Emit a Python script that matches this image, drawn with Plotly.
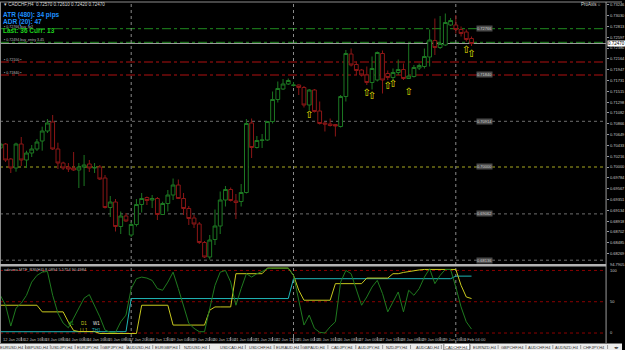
import plotly.graph_objects as go

W, H = 625, 350

# ---------------- data ----------------
bar_index = list(range(91))
opens = [0.7038, 0.7046, 0.7016, 0.6998, 0.7046, 0.7014, 0.7028, 0.7036, 0.7052, 0.7072,
         0.7090, 0.7036, 0.7008, 0.7000, 0.6998, 0.6994, 0.7000, 0.7006, 0.6998, 0.7000,
         0.6978, 0.6919, 0.6930, 0.6881, 0.6902, 0.6864, 0.6885, 0.6925, 0.6939, 0.6934,
         0.6937, 0.6905, 0.6927, 0.6944, 0.6964, 0.6937, 0.6917, 0.6898, 0.6886, 0.6849,
         0.6820, 0.6855, 0.6882, 0.6934, 0.6955, 0.6932, 0.6931, 0.6949, 0.7088, 0.7039,
         0.7053, 0.7054, 0.7091, 0.7135, 0.7156, 0.7166, 0.7163, 0.7164, 0.7159, 0.7124,
         0.7154, 0.7112, 0.7088, 0.7086, 0.7085, 0.7081, 0.7141, 0.7226, 0.7205, 0.7194,
         0.7184, 0.7169, 0.7174, 0.7227, 0.7187, 0.7179, 0.7189, 0.7195, 0.7177, 0.7181,
         0.7198, 0.7201, 0.7220, 0.7253, 0.7239, 0.7244, 0.7284, 0.7284, 0.7275, 0.7270,
         0.7257]
highs = [0.7052, 0.7048, 0.7018, 0.70486, 0.7060, 0.70326, 0.7044, 0.7056, 0.70806, 0.7096,
         0.7104, 0.70486, 0.70106, 0.7008, 0.7030, 0.7008, 0.7024, 0.7014, 0.7008, 0.7004,
         0.6984, 0.6942, 0.6936, 0.6911, 0.6908, 0.6890, 0.6936, 0.6948, 0.6941, 0.6944,
         0.6940, 0.69306, 0.6954, 0.6977, 0.6975, 0.6948, 0.6922, 0.6904, 0.6890, 0.6852,
         0.6864, 0.6915, 0.6951, 0.6962, 0.6959, 0.6946, 0.6966, 0.7096, 0.7097, 0.7062,
         0.7066, 0.7092, 0.7151, 0.7171, 0.7176, 0.7177, 0.7170, 0.7165, 0.7162, 0.7156,
         0.7156, 0.7131, 0.7091, 0.7097, 0.7086, 0.7144, 0.7234, 0.7237, 0.7211, 0.7196,
         0.7201, 0.7221, 0.7231, 0.7233, 0.7193, 0.7197, 0.7215, 0.7207, 0.7246, 0.7204,
         0.7207, 0.7237, 0.7275, 0.7297, 0.7302, 0.7307, 0.7298, 0.7304, 0.7281, 0.7275,
         0.7261]
lows = [0.7034, 0.7010, 0.6988, 0.69906, 0.7002, 0.6998, 0.7020, 0.7032, 0.70326, 0.7068,
        0.7034, 0.6996, 0.6994, 0.6990, 0.6992, 0.6958, 0.6962, 0.6990, 0.6988, 0.6974,
        0.6917, 0.6900, 0.6871, 0.6866, 0.6890, 0.6860, 0.6881, 0.6909, 0.6924, 0.6918,
        0.6894, 0.6904, 0.6911, 0.6934, 0.6936, 0.6904, 0.6884, 0.6878, 0.6846, 0.6818,
        0.6815, 0.6844, 0.6866, 0.6921, 0.6931, 0.6896, 0.6921, 0.6947, 0.7018, 0.7037,
        0.7038, 0.7052, 0.7087, 0.7129, 0.7154, 0.7164, 0.7161, 0.7144, 0.7119, 0.7114,
        0.7109, 0.7085, 0.7071, 0.7081, 0.7061, 0.7079, 0.7131, 0.7201, 0.7184, 0.7181,
        0.7164, 0.7155, 0.7171, 0.7147, 0.7174, 0.7174, 0.7184, 0.7174, 0.7176, 0.7179,
        0.7194, 0.7197, 0.7201, 0.7224, 0.7236, 0.7242, 0.7282, 0.7267, 0.7261, 0.7251,
        0.7242]
closes = [0.7046, 0.7014, 0.6998, 0.7046, 0.7014, 0.7028, 0.7036, 0.7050, 0.7072, 0.7088,
          0.7036, 0.7008, 0.6998, 0.6996, 0.6994, 0.7000, 0.7004, 0.6998, 0.6999, 0.6976,
          0.6919, 0.6930, 0.6881, 0.6902, 0.6892, 0.6885, 0.6925, 0.6937, 0.6933, 0.6937,
          0.6905, 0.6927, 0.6944, 0.6964, 0.6937, 0.6917, 0.6897, 0.6886, 0.6849, 0.6820,
          0.6854, 0.6882, 0.6934, 0.6955, 0.6933, 0.6929, 0.6949, 0.7087, 0.7039, 0.7053,
          0.7054, 0.7091, 0.7135, 0.7157, 0.7166, 0.7173, 0.7164, 0.7159, 0.7124, 0.7154,
          0.7111, 0.7087, 0.7086, 0.7083, 0.7082, 0.7141, 0.7227, 0.7204, 0.7193, 0.7184,
          0.7169, 0.7197, 0.7229, 0.7174, 0.7179, 0.7189, 0.7195, 0.7177, 0.7182, 0.7199,
          0.7203, 0.7221, 0.7254, 0.7239, 0.7247, 0.7289, 0.7293, 0.7275, 0.7267, 0.7255,
          0.7247]

arrow_bars = [59, 70, 71, 74, 75, 78, 89, 90]
arrow_prices = [0.7104, 0.71474, 0.7142, 0.7161, 0.71654, 0.71486, 0.72326, 0.7226]

rsi_h4 = [60.3, 44.4, 11.1, 39.7, 47.6, 60.3, 81.4, 92.1, 97.3, 98.4,
          60.3, 31.7, 15.9, 8.4, 23.8, 39.7, 55.6, 61.4, 44.4, 25.9,
          4.8, 1.1, 1.1, 17.9, 28.6, 71.0, 86.8, 89.4, 87.8, 84.1,
          71.0, 68.3, 81.4, 97.3, 71.0, 44.4, 15.4, 7.5, 2.1, 2.1,
          39.2, 76.2, 97.3, 100.0, 81.4, 44.4, 71.0, 94.8, 89.4, 94.8,
          98.4, 102.7, 103.7, 103.7, 103.7, 103.7, 92.1, 49.7, 12.7, 28.6,
          7.5, 1.1, 0.0, 10.0, 17.9, 81.4, 100.0, 94.8, 68.3, 44.4,
          57.6, 73.5, 84.1, 63.0, 33.8, 49.7, 65.6, 33.8, 68.3, 60.3,
          71.0, 89.4, 102.7, 78.9, 92.1, 101.6, 101.6, 73.5, 41.7, 17.9,
          6.3]
rsi_d1 = [44.4, 44.4, 44.4, 44.4, 44.4, 44.4, 44.4, 44.4, 33.8, 33.8,
          33.8, 33.8, 33.8, 17.5, 4.0, 2.4, 2.4, 2.4, 2.4, -0.8,
          -0.8, -0.8, -0.8, -0.8, -0.8, -0.8, -0.8, 44.4, 44.4, 44.4,
          44.4, 44.4, 44.4, 12.7, 12.7, 12.7, 12.7, 12.7, 12.7, 12.7,
          36.5, 41.7, 41.7, 41.7, 41.7, 94.8, 94.8, 94.8, 94.8, 94.8,
          94.8, 103.7, 103.7, 103.7, 103.7, 103.7, 92.1, 68.3, 52.4, 52.4,
          52.4, 52.4, 52.4, 52.4, 78.9, 78.9, 78.9, 78.9, 78.9, 78.9,
          87.8, 87.8, 87.8, 87.8, 87.8, 94.8, 94.8, 96.8, 98.4, 100.0,
          100.8, 101.6, 101.6, 101.6, 101.6, 101.6, 101.6, 101.6, 76.2, 57.6,
          55.1]
rsi_w1 = [2.1, 2.1, 2.1, 2.1, 2.1, 2.1, 2.1, 2.1, 2.1, 2.1,
          2.1, 2.1, 2.1, 2.1, 2.1, 2.1, 2.1, 2.1, 2.1, 2.1,
          2.1, 2.1, 2.1, 2.1, 2.1, 55.1, 55.1, 55.1, 55.1, 55.1,
          55.1, 55.1, 55.1, 55.1, 55.1, 55.1, 55.1, 55.1, 55.1, 55.1,
          55.1, 55.1, 55.1, 55.1, 55.1, 55.1, 55.1, 55.1, 55.1, 55.1,
          55.1, 55.1, 55.1, 55.1, 55.1, 55.1, 86.8, 86.8, 86.8, 86.8,
          86.8, 86.8, 86.8, 86.8, 86.8, 86.8, 86.8, 86.8, 86.8, 86.8,
          86.8, 86.8, 86.8, 86.8, 86.8, 86.8, 86.8, 86.8, 86.8, 86.8,
          86.8, 86.8, 86.8, 86.8, 86.8, 86.8, 86.8, 90.9, 90.9, 90.9,
          90.9]
rsi_levels = [100, 50, 0]

price_ticks = [0.68269, 0.68485, 0.68702, 0.68918, 0.69134, 0.69351, 0.69567, 0.69784,
               0.70000, 0.70216, 0.70433, 0.70649, 0.70866, 0.71082, 0.71298, 0.71515,
               0.71731, 0.71947, 0.72164, 0.72380, 0.72597, 0.72813, 0.73030, 0.73246]
bid_price = 0.72470

green_levels = [0.72766, 0.72494]
red_levels = [0.72100, 0.71840]
grid_levels = [0.70914, 0.69062, 0.68136]
key_level = 0.70000
boxed_levels = [0.72766, 0.71840, 0.70914, 0.70000, 0.69062, 0.68136]

separator_bars = [25, 56, 87]
time_label_bars = [0, 4, 8, 12, 16, 20, 24, 28, 32, 36, 40, 44, 48, 52, 56, 60, 64, 68, 72, 76, 80, 84, 88]
time_labels = ["12 Jan 2016", "12 Jan 16:00", "13 Jan 08:00", "14 Jan 00:00", "14 Jan 16:00",
               "15 Jan 08:00", "17 Jan 20:00", "18 Jan 12:00", "19 Jan 04:00", "19 Jan 20:00",
               "20 Jan 12:00", "21 Jan 04:00", "21 Jan 20:00", "22 Jan 12:00", "25 Jan 00:00",
               "25 Jan 16:00", "26 Jan 08:00", "27 Jan 00:00", "27 Jan 16:00", "28 Jan 08:00",
               "29 Jan 00:00", "29 Jan 16:00", "1 Feb 04:00"]

tabs = ["EURUSD,H4", "GBPUSD,H4", "USDJPY,H4", "EURJPY,H4", "GBPJPY,H4", "AUDUSD,H4",
        "EURGBP,H4", "NZDUSD,H4", "USDCAD,H4", "USDCHF,H4", "EURAUD,H4", "GBPAUD,H4",
        "CADJPY,H4", "AUDJPY,H4", "NZDJPY,H4", "AUDCAD,H4", "CADCHF,H4", "EURNZD,H4",
        "GBPCHF,H4", "AUDCHF,H4", "AUDNZD,H4", "CHFJPY,H4"]
active_tab = "CADCHF,H4"

# ---------------- layout helpers ----------------
FONT = "Liberation Sans"
GREEN = "#1c7722"
RED = "#8c1616"
X_END = 609.0


def px(x):
    return x / W


def py(y):
    return 1 - y / H


fig = go.Figure()

fig.add_trace(go.Candlestick(
    x=bar_index, open=opens, high=highs, low=lows, close=closes,
    increasing=dict(line=dict(color=GREEN, width=1), fillcolor="black"),
    decreasing=dict(line=dict(color=RED, width=1), fillcolor="black"),
    whiskerwidth=0, showlegend=False, hoverinfo="skip", xaxis="x", yaxis="y"))

fig.add_trace(go.Scatter(
    x=arrow_bars, y=arrow_prices, mode="text", text=["\u21e7"] * len(arrow_bars),
    textfont=dict(color="#e6e600", size=10, family="DejaVu Sans"),
    showlegend=False, hoverinfo="skip", xaxis="x", yaxis="y"))

fig.add_trace(go.Scatter(x=bar_index, y=rsi_w1, mode="lines", line=dict(color="#1fb5b5", width=1),
                         showlegend=False, hoverinfo="skip", xaxis="x2", yaxis="y2"))
fig.add_trace(go.Scatter(x=bar_index, y=rsi_d1, mode="lines", line=dict(color="#c8c81e", width=1),
                         showlegend=False, hoverinfo="skip", xaxis="x2", yaxis="y2"))
fig.add_trace(go.Scatter(x=bar_index, y=rsi_h4, mode="lines", line=dict(color="#1f7a1f", width=1),
                         showlegend=False, hoverinfo="skip", xaxis="x2", yaxis="y2"))

shapes = []
ann = []

# horizontal price objects
for lv in green_levels:
    shapes.append(dict(type="line", xref="paper", yref="y", x0=0, x1=px(X_END), y0=lv, y1=lv,
                       line=dict(color="#1f8a1f", width=1, dash="dashdot"), layer="below"))
for lv in red_levels:
    shapes.append(dict(type="line", xref="paper", yref="y", x0=0, x1=px(X_END), y0=lv, y1=lv,
                       line=dict(color="#b01010", width=1, dash="dashdot"), layer="below"))
for lv in grid_levels:
    shapes.append(dict(type="line", xref="paper", yref="y", x0=0, x1=px(X_END), y0=lv, y1=lv,
                       line=dict(color="#6e6e6e", width=1, dash="dot"), layer="below"))
shapes.append(dict(type="line", xref="paper", yref="y", x0=0, x1=px(X_END), y0=key_level, y1=key_level,
                   line=dict(color="#a8a820", width=1, dash="dot"), layer="below"))
shapes.append(dict(type="line", xref="paper", yref="y", x0=0, x1=px(X_END), y0=bid_price, y1=bid_price,
                   line=dict(color="#9a9a9a", width=1), layer="below"))

# indicator levels
for lv in rsi_levels:
    shapes.append(dict(type="line", xref="paper", yref="y2", x0=0, x1=px(X_END), y0=lv, y1=lv,
                       line=dict(color="#8b0000", width=1, dash="dot"), layer="below"))

# period separators
for b in separator_bars:
    shapes.append(dict(type="line", xref="x", yref="paper", x0=b, x1=b, y0=py(343), y1=py(3),
                       line=dict(color="#8a8a8a", width=1, dash="dot"), layer="below"))

# borders / frame
shapes.append(dict(type="line", xref="paper", yref="paper", x0=0, x1=1, y0=py(2), y1=py(2),
                   line=dict(color="#8c8c8c", width=1)))
shapes.append(dict(type="line", xref="paper", yref="paper", x0=px(0.5), x1=px(0.5), y0=py(343), y1=py(2),
                   line=dict(color="#8c8c8c", width=1)))
shapes.append(dict(type="line", xref="paper", yref="paper", x0=px(X_END), x1=px(X_END), y0=py(343), y1=py(2),
                   line=dict(color="#9a9a9a", width=1)))
shapes.append(dict(type="rect", xref="paper", yref="paper", x0=0, x1=px(X_END), y0=py(266.5), y1=py(264),
                   line=dict(width=0), fillcolor="#b4b4b4"))

# tab bar
shapes.append(dict(type="rect", xref="paper", yref="paper", x0=0, x1=1, y0=0, y1=py(343.5),
                   line=dict(width=0), fillcolor="#ececec"))

# labels of price objects (left)
left_obj = [(27.2, "\u25aa 0.72766 buy_tp2"), (39.8, "\u25aa 0.72494 buy_entry 3.45"),
            (59.6, "\u25aa 0.72100 \u25aa"), (73.0, "\u25aa 0.71840 \u25aa")]
for yy, t in left_obj:
    ann.append(dict(xref="paper", yref="paper", x=px(2), y=py(yy), text=t, showarrow=False,
                    xanchor="left", yanchor="middle", font=dict(family=FONT, size=3.6, color="#bdbdbd")))

# boxed price labels near right of bars
for lv in boxed_levels:
    ann.append(dict(xref="x", yref="y", x=92.5, y=lv, text=f"{lv:.5f}", showarrow=False,
                    xanchor="center", yanchor="middle", bgcolor="#4a4a4a",
                    font=dict(family=FONT, size=4, color="#d0d0d0"), borderpad=0))

# header texts
ann.append(dict(xref="paper", yref="paper", x=px(2), y=py(4.5),
                text="\u25be CADCHF,H4  0.72570 0.72610 0.72420 0.72470", showarrow=False,
                xanchor="left", yanchor="middle", font=dict(family=FONT, size=4.5, color="#d8d8d8")))
ann.append(dict(xref="paper", yref="paper", x=px(1.5), y=py(15.2), text="<b>ATR (480): 34 pips</b>",
                showarrow=False, xanchor="left", yanchor="middle",
                font=dict(family=FONT, size=6.5, color="#1e90ff")))
ann.append(dict(xref="paper", yref="paper", x=px(1.5), y=py(22.5), text="<b>ADR (20): 47</b>",
                showarrow=False, xanchor="left", yanchor="middle",
                font=dict(family=FONT, size=6.5, color="#1e90ff")))
ann.append(dict(xref="paper", yref="paper", x=px(1.5), y=py(31), text="<b>Last: 36 Curr: 13</b>",
                showarrow=False, xanchor="left", yanchor="middle",
                font=dict(family=FONT, size=6.5, color="#1ed21e")))
ann.append(dict(xref="paper", yref="paper", x=px(606), y=py(4.5), text="ProAxis \u25cb",
                showarrow=False, xanchor="right", yanchor="middle",
                font=dict(family=FONT, size=4.5, color="#d8d8d8")))

# bid box on price scale
ann.append(dict(xref="paper", yref="y", x=px(X_END + 1), y=bid_price, text=f"{bid_price:.5f}",
                showarrow=False, xanchor="left", yanchor="middle", bgcolor="#ffffff",
                font=dict(family=FONT, size=4.5, color="#000000"), borderpad=0))

# indicator title and legend marks
ann.append(dict(xref="paper", yref="paper", x=px(2), y=py(269), text="adxvma MTF_RSI(H4) 8.0894 5.5754 90.4984",
                showarrow=False, xanchor="left", yanchor="middle",
                font=dict(family=FONT, size=4, color="#bdbdbd")))
for xx, yy, t, c in [(71, 323, "H1", "#1f9a1f"), (84, 323, "D1", "#c8c81e"), (97, 323, "W1", "#e0e0e0"),
                     (84, 330, "LL1", "#c8c81e"), (97, 330, "TH1", "#1fb5b5")]:
    ann.append(dict(xref="paper", yref="paper", x=px(xx), y=py(yy), text=t, showarrow=False,
                    xanchor="center", yanchor="middle", font=dict(family=FONT, size=4.5, color=c)))

# indicator scale labels
for yy, t in [(264, "94.7905"), (270, "100"), (301.7, "50"), (332.5, "0")]:
    ann.append(dict(xref="paper", yref="paper", x=px(X_END + 2), y=py(yy), text=t, showarrow=False,
                    xanchor="left", yanchor="middle", font=dict(family=FONT, size=4, color="#c8c8c8")))

# time labels
for b, t in zip(time_label_bars, time_labels):
    ann.append(dict(xref="x2", yref="paper", x=b, y=py(339.5), text=t, showarrow=False,
                    xanchor="left", yanchor="middle", xshift=1,
                    font=dict(family=FONT, size=4, color="#b8b8b8")))
    shapes.append(dict(type="line", xref="x2", yref="paper", x0=b, x1=b, y0=py(341), y1=py(337),
                       line=dict(color="#8c8c8c", width=1)))

# tabs
tab_centers = [12, 37, 62, 88, 114, 140, 167, 197, 233, 262, 289, 316, 344, 371, 399, 430, 459,
               487, 515, 542, 570, 597]
for c, t in zip(tab_centers, tabs):
    if t == active_tab:
        shapes.append(dict(type="rect", xref="paper", yref="paper", x0=px(c - 13), x1=px(c + 13),
                           y0=0, y1=py(343.5), line=dict(color="#7a7a7a", width=1), fillcolor="#ffffff"))
    ann.append(dict(xref="paper", yref="paper", x=px(c), y=py(347), text=t, showarrow=False,
                    xanchor="center", yanchor="middle", font=dict(family=FONT, size=4, color="#303030")))
    shapes.append(dict(type="line", xref="paper", yref="paper", x0=px(c + 13.5), x1=px(c + 13.5),
                       y0=py(349), y1=py(345), line=dict(color="#9a9a9a", width=1)))
ann.append(dict(xref="paper", yref="paper", x=px(619), y=py(347), text="\u25c2\u25b8", showarrow=False,
                xanchor="center", yanchor="middle", font=dict(family="DejaVu Sans", size=4.5, color="#303030")))

fig.update_layout(
    width=W, height=H, margin=dict(l=0, r=0, t=0, b=0),
    paper_bgcolor="black", plot_bgcolor="black", showlegend=False,
    boxgap=0.15, boxgroupgap=0.15,
    xaxis=dict(domain=[0, px(X_END)], range=[-0.06, 115.7], showgrid=False, zeroline=False,
               showticklabels=False, rangeslider=dict(visible=False), fixedrange=True, anchor="y"),
    yaxis=dict(domain=[py(263), py(2)], range=[0.6808, 0.7330], side="right", showgrid=False,
               zeroline=False, tickvals=price_ticks, ticktext=[f"{v:.5f}" for v in price_ticks],
               tickfont=dict(family=FONT, size=4, color="#c8c8c8"), ticks="outside", ticklen=2,
               tickcolor="#9a9a9a", anchor="x", fixedrange=True),
    xaxis2=dict(domain=[0, px(X_END)], range=[-0.06, 115.7], showgrid=False, zeroline=False,
                showticklabels=False, anchor="y2", fixedrange=True),
    yaxis2=dict(domain=[py(336), py(266.5)], range=[-4.76, 106.3], side="right", showgrid=False,
                zeroline=False, showticklabels=False, anchor="x2", fixedrange=True),
    shapes=shapes, annotations=ann,
)

fig.write_html("out.html")
